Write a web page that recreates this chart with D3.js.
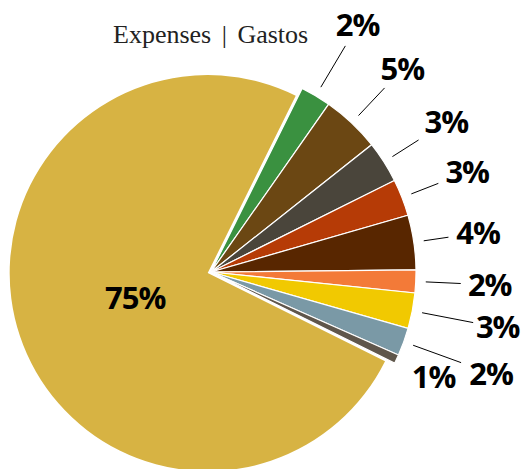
<!DOCTYPE html>
<html>
<head>
<meta charset="utf-8">
<script src="https://cdn.jsdelivr.net/npm/d3@7"></script>
<style>
  body { margin: 0; background: #fff; }
  svg { display: block; }
  .pct { font-family: "Open Sans", sans-serif; font-weight: 700; fill: #000; }
  .title { font-family: "Liberation Serif", serif; fill: #222; }
</style>
</head>
<body>
<div id="chart"></div>
<script>
    var width = 526,
        height = 469;

    // expense shares (percent), clockwise from the green slice
    var shares = [2.4, 4.6, 3.3, 2.9, 4.3, 1.8, 2.8, 2.2, 0.7, 75.0];
    var labels = ["2%", "5%", "3%", "3%", "4%", "2%", "3%", "2%", "1%", "75%"];
    var colors = ["#3a9140", "#6b4713", "#4a453b", "#b63b06", "#582600",
                  "#f37a38", "#f1c901", "#7a99a6", "#5f564b", "#d7b343"];

    // label layout (radial distance of leader line end / label centre)
    var lineEnd = [263, 253, 246, 244, 240, 250, 267, 266, 0, 0];
    var labelR  = [287, 279, 279, 275, 270, 279, 292, 298, 246, 0];

    var cx = 211, cy = 272,
        radius = 205,
        bigRadius = 198,
        startDeg = 26.4;

    var svg = d3.select("#chart").append("svg")
      .attr("width", width)
      .attr("height", height);

    var pie = d3.pie()
      .sort(null)
      .value(function(d) { return d; })
      .startAngle(startDeg * Math.PI / 180)
      .endAngle(startDeg * Math.PI / 180 + 2 * Math.PI);

    var arcs = pie(shares);

    var arc = d3.arc().innerRadius(0);

    var g = svg.append("g")
      .attr("transform", "translate(" + cx + "," + cy + ")");

    g.selectAll("path.slice")
      .data(arcs)
      .enter().append("path")
      .attr("class", "slice")
      .attr("fill", function(d, i) { return colors[i]; })
      .attr("stroke", "#fff")
      .attr("stroke-width", function(d, i) { return i == 9 ? 0 : 1.2; })
      .attr("transform", function(d, i) {
        if (i != 9) return null;
        // the big slice is pulled out a bit
        var a = (d.startAngle + d.endAngle) / 2;
        return "translate(" + (Math.sin(a) * 3.5) + "," + (-Math.cos(a) * 3.5) + ")";
      })
      .attr("d", function(d, i) {
        return arc.outerRadius(i == 9 ? bigRadius : radius)(d);
      });

    function polar(a, r) {
      return [Math.sin(a) * r, -Math.cos(a) * r];
    }

    // leader lines
    g.selectAll("line.leader")
      .data(arcs.filter(function(d, i) { return lineEnd[i] > 0; }))
      .enter().append("line")
      .attr("class", "leader")
      .attr("stroke", "#000")
      .attr("stroke-width", 1)
      .each(function(d) {
        var i = d.index,
            a = (d.startAngle + d.endAngle) / 2,
            p0 = polar(a, 215),
            p1 = polar(a, lineEnd[i]);
        d3.select(this)
          .attr("x1", p0[0]).attr("y1", p0[1])
          .attr("x2", p1[0]).attr("y2", p1[1]);
      });

    // percentage labels
    g.selectAll("text.pct")
      .data(arcs)
      .enter().append("text")
      .attr("class", "pct")
      .attr("text-anchor", "middle")
      .attr("dy", "0.36em")
      .style("font-size", "31px")
      .style("letter-spacing", "-1px")
      .attr("fill", function(d, i) { return i == 9 ? "#2a2a2a" : "#000"; })
      .attr("transform", function(d, i) {
        var a = (d.startAngle + d.endAngle) / 2,
            p = polar(a, i == 9 ? 80 : labelR[i]);
        return "translate(" + p[0] + "," + p[1] + ")";
      })
      .text(function(d, i) { return labels[i]; });

    svg.append("text")
      .attr("class", "title")
      .attr("x", 113)
      .attr("y", 43)
      .style("font-size", "26px")
      .style("word-spacing", "4px")
      .text("Expenses | Gastos");
</script>
</body>
</html>
